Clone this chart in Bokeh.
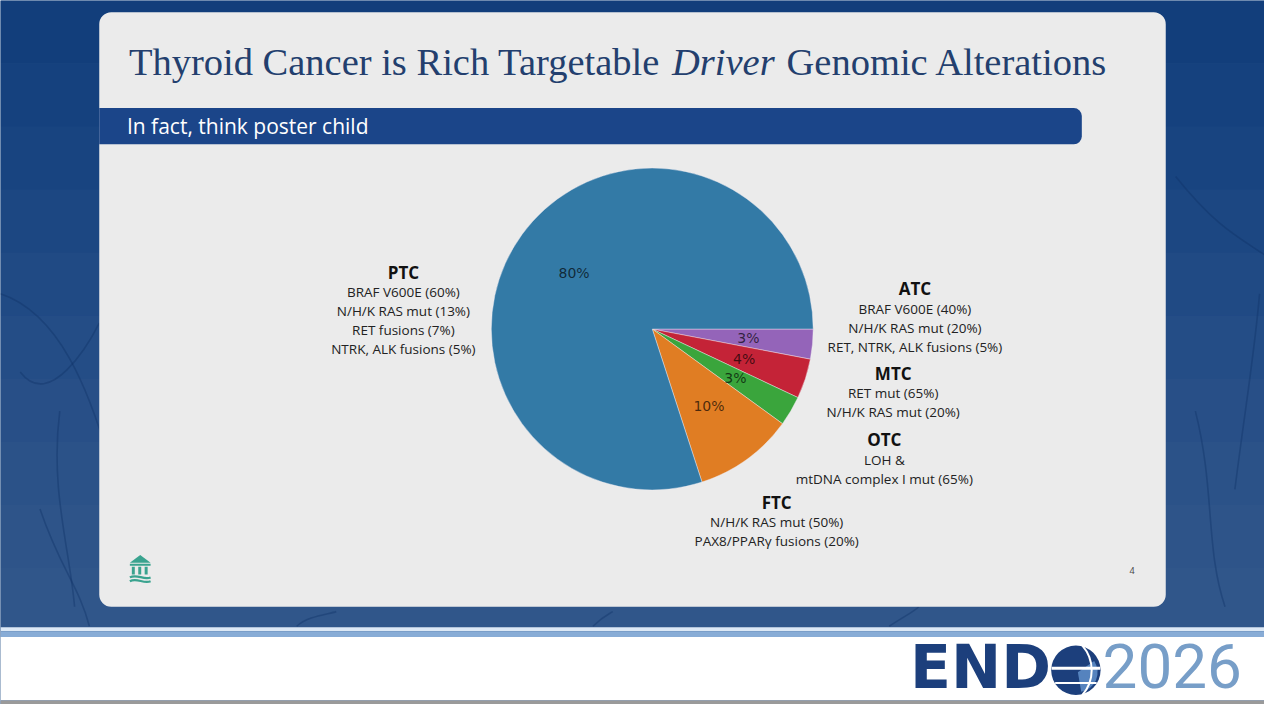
import numpy as np
from bokeh.plotting import figure
from bokeh.models import Range1d, BoxAnnotation, ColumnDataSource
from bokeh.core.properties import value
from bokeh.embed import file_html
from bokeh.resources import INLINE

# ---------------- data ----------------
categories = ["ATC", "MTC", "OTC", "FTC", "PTC"]
shares = [3, 4, 3, 10, 80]
pct_labels = ["3%", "4%", "3%", "10%", "80%"]
slice_colors = ["#9464b9", "#c42337", "#3aa53c", "#e07d23", "#337aa6"]

group_titles = ["PTC", "ATC", "MTC", "OTC", "FTC"]
group_lines = [
    ["BRAF V600E (60%)", "N/H/K RAS mut (13%)", "RET fusions (7%)", "NTRK, ALK fusions (5%)"],
    ["BRAF V600E (40%)", "N/H/K RAS mut (20%)", "RET, NTRK, ALK fusions (5%)"],
    ["RET mut (65%)", "N/H/K RAS mut (20%)"],
    ["LOH &", "mtDNA complex I mut (65%)"],
    ["N/H/K RAS mut (50%)", "PAX8/PPARγ fusions (20%)"],
]
title_parts = ["Thyroid Cancer is Rich Targetable", "Driver", "Genomic Alterations"]
subtitle = "In fact, think poster child"
page_number = "4"
logo_word = "END"
logo_year = "2026"

# ---------------- layout (reference px, y measured from top) ----------------
W, H = 1264, 704
def Y(ry):
    return 720 - ry

p = figure(width=W, height=H, x_range=Range1d(0, 1280), y_range=Range1d(0, 720),
           output_backend="svg", toolbar_location=None, min_border=0,
           x_axis_location=None, y_axis_location=None)
p.grid.visible = False
p.outline_line_color = None
p.background_fill_color = "#1f4a84"
p.border_fill_color = "#1f4a84"

# background gradient bands
band_cols = ["#123e7b", "#15417e", "#184480", "#1c4782", "#204a84", "#244d86",
             "#284f87", "#2b5288", "#2e5489", "#30568a"]
nb = len(band_cols)
edges = np.linspace(0, 645, nb + 1)
p.quad(left=0, right=1280, top=[Y(e) for e in edges[:-1]], bottom=[Y(e) for e in edges[1:]],
       fill_color=band_cols, line_color=None, level="image")
# faint vein texture
vx0 = [0, 20, 60, 1190, 1210, 1250, 300, 600, 900, 40]
vy0 = [300, 380, 420, 180, 420, 500, 640, 640, 640, 520]
vx1 = [110, 100, 75, 1280, 1240, 1275, 340, 620, 930, 90]
vy1 = [470, 330, 620, 260, 620, 300, 625, 625, 620, 640]
vcx0 = [60, 50, 50, 1230, 1230, 1260, 310, 610, 915, 60]
vcy0 = [320, 420, 500, 230, 500, 420, 630, 630, 630, 580]
vcx1 = [90, 90, 70, 1250, 1220, 1270, 330, 615, 925, 80]
vcy1 = [400, 350, 560, 240, 560, 360, 628, 628, 625, 600]
p.bezier(x0=vx0, y0=[Y(v) for v in vy0], x1=vx1, y1=[Y(v) for v in vy1],
         cx0=vcx0, cy0=[Y(v) for v in vcy0], cx1=vcx1, cy1=[Y(v) for v in vcy1],
         line_color="#0f3366", line_width=1.6, line_alpha=0.4, level="image")

# bottom white band + stripes
p.quad(left=0, right=1280, top=Y(641), bottom=Y(645), fill_color="#dce8f5", line_color=None, level="image")
p.quad(left=0, right=1280, top=Y(645), bottom=Y(651), fill_color="#88acd6", line_color=None, level="image")
p.quad(left=0, right=1280, top=Y(651), bottom=Y(716), fill_color="#ffffff", line_color=None, level="image")
p.quad(left=0, right=1280, top=Y(716), bottom=Y(720), fill_color="#9a9a9a", line_color=None, level="image")

# panel and subtitle bar
panel = BoxAnnotation(left=100, right=1180, top=Y(12), bottom=Y(620), fill_color="#ebebeb",
                      fill_alpha=1.0, line_color=None, border_radius=12, level="underlay")
bar = BoxAnnotation(left=100, right=1095, top=Y(110), bottom=Y(147), fill_color="#1b4589",
                    fill_alpha=1.0, line_color=None, border_radius=(0, 8, 8, 0), level="underlay")
p.add_layout(panel)
p.add_layout(bar)

# title
title_x = [130, 680, 796]
title_styles = ["normal", "italic", "normal"]
for tx, tt, st in zip(title_x, title_parts, title_styles):
    p.text(x=[tx], y=[Y(63)], text=[tt], text_font=value("Liberation Serif"),
           text_font_size="38.5px", text_font_style=st, text_color="#233f6e",
           text_align="left", text_baseline="middle")

p.text(x=[128], y=[Y(128)], text=[subtitle], text_font=value("Open Sans"),
       text_font_size="21px", text_color="#ffffff", text_align="left", text_baseline="middle")

# ---------------- pie ----------------
cx, cy, R = 660, Y(336), 163
fr = np.array(shares, dtype=float) / np.sum(shares)
ends = -2 * np.pi * np.cumsum(fr)
starts = np.concatenate([[0.0], ends[:-1]])
mids = (starts + ends) / 2
src = ColumnDataSource(dict(start=starts, end=ends, color=slice_colors, cat=categories,
                            lx=cx + 0.6 * R * np.cos(mids), ly=cy + 0.6 * R * np.sin(mids),
                            lab=pct_labels))
p.wedge(x=cx, y=cy, radius=R, start_angle="start", end_angle="end", direction="clock",
        fill_color="color", line_color="#f4eef6", line_width=0.7, line_alpha=0.6, source=src)
p.text(x="lx", y="ly", text="lab", source=src, text_font=value("DejaVu Sans"),
       text_font_size="14px", text_color="#000000", text_alpha=0.68,
       text_align="center", text_baseline="middle")

# ---------------- annotations ----------------
block_pos = [(408, 278), (926, 295), (904, 381), (895, 449), (786, 513)]
for (bx, by), tt, lines in zip(block_pos, group_titles, group_lines):
    p.text(x=[bx], y=[Y(by)], text=[tt], text_font=value("Open Sans"), text_font_size="17px",
           text_font_style="bold", text_color="#111111", text_align="center", text_baseline="middle")
    ys = [Y(by + 20.5 + 19.4 * i) for i in range(len(lines))]
    p.text(x=[bx] * len(lines), y=ys, text=lines, text_font=value("Open Sans"),
           text_font_size="13.5px", text_color="#222222", text_align="center", text_baseline="middle")

# page number
p.text(x=[1146], y=[Y(583)], text=[page_number], text_font=value("Open Sans"),
       text_font_size="9px", text_color="#444444", text_align="center", text_baseline="middle")

# small institution icon
teal = "#3aa38f"
p.patch(x=[131, 141.5, 152], y=[Y(575), Y(567), Y(575)], fill_color=teal, line_color=None)
p.quad(left=[131], right=[152], top=[Y(576)], bottom=[Y(578)], fill_color=teal, line_color=None)
p.quad(left=[133, 139.5, 146], right=[136, 142.5, 149], top=[Y(579)] * 3, bottom=[Y(587)] * 3,
       fill_color=teal, line_color=None)
p.bezier(x0=[131, 131], y0=[Y(590), Y(594)], x1=[152, 152], y1=[Y(590), Y(594)],
         cx0=[138, 138], cy0=[Y(586), Y(590)], cx1=[145, 145], cy1=[Y(593), Y(597)],
         line_color=teal, line_width=2.2)

# ---------------- ENDO 2026 logo ----------------
p.text(x=[921], y=[Y(682)], text=[logo_word], text_font=value("DejaVu Sans"), text_font_size="60px",
       text_font_style="bold", text_color="#1c3f7c", text_align="left", text_baseline="middle")
gx, gy, gr = 1089, Y(685), 25
p.circle(x=[gx], y=[gy], radius=gr, fill_color="#1c3f7c", line_color=None)
p.wedge(x=[gx + 2], y=[gy - 2], radius=gr - 5, start_angle=-1.4, end_angle=0.6,
        fill_color="#5f8fca", fill_alpha=0.85, line_color=None)
p.quad(left=[gx - gr + 0.5], right=[gx + gr - 0.5], top=[gy + 3.5], bottom=[gy + 0.5],
       fill_color="#ffffff", line_color=None)
p.quad(left=[gx - gr + 4], right=[gx + gr - 4], top=[gy - 12], bottom=[gy - 14],
       fill_color="#ffffff", line_color=None)
p.arc(x=[gx - 22], y=[gy], radius=38, start_angle=-0.72, end_angle=0.72,
      line_color="#ffffff", line_width=2)
p.text(x=[1116], y=[Y(681)], text=[logo_year], text_font=value("Roboto"), text_font_size="62px",
       text_color="#779ec8", text_align="left", text_baseline="middle")

open("out.html", "w").write(file_html(p, INLINE))
